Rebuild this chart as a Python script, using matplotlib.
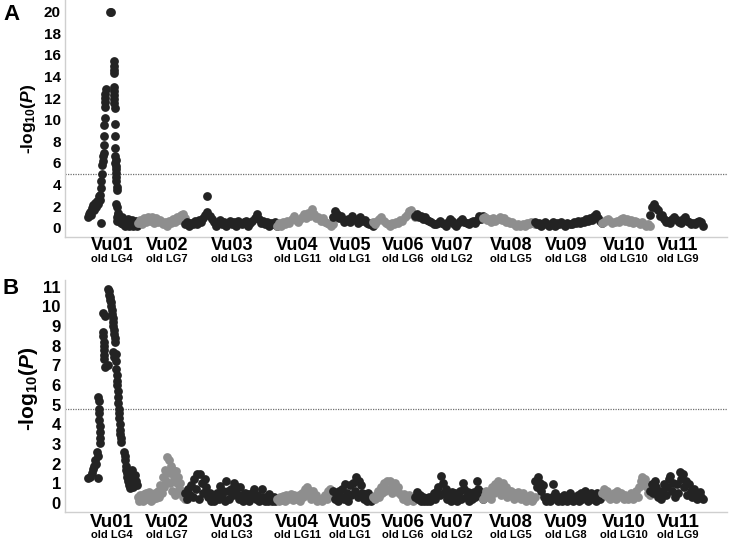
import numpy as np
import matplotlib
matplotlib.use('Agg')
import matplotlib.pyplot as plt

plt.rcParams['font.family'] = ['Liberation Sans', 'DejaVu Sans']
plt.rcParams['font.weight'] = 'bold'
plt.rcParams['mathtext.fontset'] = 'custom'
plt.rcParams['mathtext.rm'] = 'Liberation Sans:bold'
plt.rcParams['mathtext.it'] = 'Liberation Sans:italic:bold'
plt.rcParams['mathtext.bf'] = 'Liberation Sans:bold'

chromosomes = ['Vu01', 'Vu02', 'Vu03', 'Vu04', 'Vu05', 'Vu06', 'Vu07', 'Vu08', 'Vu09', 'Vu10', 'Vu11']
old_groups = ['old LG4', 'old LG7', 'old LG3', 'old LG11', 'old LG1', 'old LG6',
              'old LG2', 'old LG5', 'old LG8', 'old LG10', 'old LG9']
chrom_length = [51, 47, 92, 56, 40, 42, 68, 52, 67, 48, 53]

# ---- panel A ----
a_threshold = 5.0
a_vu01_pos = [1, 2, 3, 4, 5, 6, 7, 8, 9, 10, 11, 12, 12.5, 13.5,
              13, 13.5, 14, 14.5, 15, 15.5, 16, 16.5, 16.5, 17, 17, 17.5, 17.5, 18, 18, 18, 18.5,
              22.5, 23.5,
              26.5, 26.5, 26.5, 26.5, 27, 27, 27, 27, 27, 27.5, 27.5, 28, 28, 28, 28.5, 28, 29, 28.5,
              29, 28.5, 29, 29.5, 29.5, 29, 30, 30.5, 30, 29.5,
              31, 32, 33, 34, 35, 36, 37, 38, 39, 40, 41, 42, 43, 44, 45, 46, 47, 48, 49, 50, 51]
a_vu01_val = [1.0, 1.3, 1.5, 1.2, 1.8, 2.1, 1.6, 2.3, 1.9, 2.5, 2.2, 2.9, 2.6, 0.4,
              3.0, 3.7, 4.3, 5.0, 5.8, 6.2, 6.6, 6.9, 7.7, 8.5, 9.5, 10.2, 11.2, 11.6, 12.0, 12.4, 12.8,
              19.95, 19.95,
              15.4, 15.0, 14.6, 14.3, 13.0, 12.7, 12.3, 11.9, 11.5, 11.1, 9.6, 8.5, 7.4, 6.6, 6.3, 6.0, 5.7, 5.4,
              5.1, 4.7, 4.3, 3.8, 3.5, 2.2, 1.9, 1.4, 1.0, 0.6,
              1.2, 0.6, 0.9, 0.4, 1.0, 0.3, 0.7, 0.2, 0.6, 0.4, 0.8, 0.2, 0.5, 0.3, 0.7, 0.2, 0.5, 0.3, 0.6, 0.2, 0.4]
a_vu02 = [0.4, 0.7, 0.3, 0.9, 0.5, 1.0, 0.6, 1.0, 0.4, 0.9, 0.5, 0.7, 0.3, 0.5, 0.2, 0.6,
          0.4, 0.8, 0.5, 1.0, 0.7, 1.2, 1.3, 0.9]
a_vu03 = [0.3, 0.5, 0.2, 0.4, 0.3, 0.6, 0.3, 0.7, 0.5, 0.9, 1.2, 1.45, 1.1, 0.8, 0.5, 0.2,
          0.5, 0.7, 0.3, 0.5, 0.2, 0.4, 0.6, 0.3, 0.5, 0.2, 0.6, 0.4, 0.3, 0.5, 0.6, 0.2,
          0.4, 0.6, 0.9, 1.25, 0.8, 0.4, 0.6, 0.3, 0.5, 0.2, 0.4, 0.3, 0.5, 0.2]
a_vu03_extra_pos = [22]
a_vu03_extra_val = [2.93]
a_vu04 = [0.2, 0.4, 0.2, 0.5, 0.3, 0.6, 0.4, 0.8, 1.1, 0.7, 0.5, 0.8, 1.0, 1.27, 0.9, 1.4,
          1.1, 1.7, 1.3, 0.9, 1.0, 0.6, 0.9, 0.5, 0.4, 0.3, 0.2, 0.3]
a_vu05 = [1.0, 1.57, 1.3, 0.9, 1.1, 0.5, 0.7, 0.85, 0.5, 1.1, 0.8, 0.7, 0.4, 1.0, 0.6, 0.7,
          0.4, 0.3, 0.4, 0.2]
a_vu06 = [0.5, 0.3, 0.6, 0.8, 0.96, 0.6, 0.4, 0.3, 0.2, 0.45, 0.3, 0.5, 0.4, 0.7, 0.6, 0.96,
          1.2, 1.55, 1.6, 1.3, 1.0]
a_vu07 = [1.1, 1.27, 1.0, 1.1, 0.8, 1.0, 0.7, 0.65, 0.5, 0.35, 0.3, 0.4, 0.65, 0.4, 0.35, 0.2,
          0.5, 0.8, 0.6, 0.3, 0.2, 0.4, 0.6, 0.8, 0.5, 0.4, 0.3, 0.5, 0.65, 0.4, 0.7, 1.1, 0.8, 1.1]
a_vu08 = [0.9, 1.0, 0.7, 0.8, 0.5, 0.9, 0.6, 0.8, 1.0, 0.7, 0.9, 0.5, 0.6, 0.4, 0.5, 0.3,
          0.2, 0.3, 0.2, 0.35, 0.2, 0.4, 0.3, 0.5, 0.4, 0.3]
a_vu09 = [0.5, 0.3, 0.4, 0.2, 0.3, 0.5, 0.35, 0.2, 0.3, 0.5, 0.2, 0.4, 0.3, 0.5, 0.3, 0.2,
          0.4, 0.35, 0.3, 0.5, 0.4, 0.6, 0.4, 0.65, 0.5, 0.8, 0.6, 0.9, 0.7, 1.1, 1.27, 0.9, 0.65, 0.4]
a_vu10 = [0.4, 0.5, 0.7, 0.8, 0.6, 0.4, 0.5, 0.65, 0.5, 0.8, 0.9, 0.6, 0.8, 0.5, 0.7, 0.4,
          0.6, 0.5, 0.3, 0.5, 0.3, 0.2, 0.3, 0.2]
a_vu11 = [1.2, 1.9, 2.2, 1.8, 1.6, 1.1, 1.2, 0.8, 0.5, 0.65, 0.4, 0.8, 1.0, 0.7, 0.5, 0.4,
          0.8, 1.0, 0.6, 0.5, 0.3, 0.4, 0.3, 0.5, 0.65, 0.5, 0.2]

# ---- panel B ----
b_threshold = 4.8
b_vu01_pos = [1, 3, 4.5, 6, 7, 8, 9, 10, 11, 10.5,
              11, 11.5, 12, 12, 12, 12.5, 12.5, 13, 13,
              16, 18, 16, 16, 16.5, 16.5, 17, 17, 17, 18, 21,
              21, 21.5, 22, 22.5, 23, 23.5, 24, 24.5, 25, 25.5, 26, 26, 26.5, 27, 27.5, 28, 26, 27, 28.5,
              29, 29, 29.5, 30, 30, 30.5, 31, 31, 31.5, 32, 32, 32.5, 33, 33, 33.5, 34,
              37, 37.5, 38, 38.5, 39, 39.5, 40, 40.5, 41, 41.5, 42, 42.5, 43, 43.5, 44, 44.5,
              45, 45.5, 46, 46.5, 47, 48, 49, 50]
b_vu01_val = [1.25, 1.3, 1.5, 1.75, 1.9, 2.2, 2.0, 2.6, 1.25, 2.4,
              5.4, 5.2, 4.8, 4.6, 4.2, 3.9, 3.6, 3.3, 3.05,
              9.65, 9.5, 8.7, 8.5, 8.2, 8.0, 7.8, 7.5, 7.3, 6.9, 7.0,
              10.9, 10.8, 10.6, 10.5, 10.3, 10.2, 10.0, 9.8, 9.6, 9.4, 9.2, 9.0, 8.8, 8.6, 8.4, 8.2, 7.7, 7.4, 7.6,
              7.2, 6.8, 6.5, 6.2, 6.0, 5.7, 5.4, 5.1, 4.8, 4.6, 4.3, 4.0, 3.7, 3.5, 3.3, 3.1,
              2.6, 2.4, 2.2, 1.9, 1.7, 1.5, 1.3, 1.6, 1.1, 1.4, 0.9, 1.2, 0.75, 1.0, 1.5, 1.2,
              1.7, 1.1, 0.8, 1.3, 1.0, 1.4, 1.1, 0.9]
b_vu02 = [0.3, 0.1, 0.4, 0.2, 0.35, 0.1, 0.45, 0.25, 0.5, 0.2, 0.4, 0.55, 0.3, 0.1, 0.45, 0.2,
          0.35, 0.5, 0.25, 0.4, 0.6, 0.3, 0.9, 0.5, 1.3, 0.8, 1.7, 1.1, 2.35, 1.5, 2.2, 1.0,
          1.9, 0.6, 1.7, 1.3, 0.4, 1.6, 1.0, 1.3, 0.7, 1.0, 0.5, 0.6, 0.3, 0.4, 0.2]
b_vu03 = [0.5, 0.2, 0.7, 0.4, 0.9, 0.3, 1.2, 0.7, 1.47, 0.2, 1.45, 1.0, 0.5, 1.2, 0.8, 0.3,
          0.5, 0.1, 0.3, 0.1, 0.2, 0.5, 0.2, 0.88, 0.4, 0.6, 0.1, 1.13, 0.6, 0.2, 0.7, 0.4,
          1.0, 0.5, 0.8, 0.2, 0.8, 0.4, 0.1, 0.5, 0.2, 0.46, 0.1, 0.3, 0.5, 0.7, 0.2, 0.4,
          0.1, 0.3, 0.7, 0.3, 0.1, 0.3, 0.1, 0.46, 0.2, 0.1, 0.3, 0.1, 0.2]
b_vu04 = [0.2, 0.1, 0.3, 0.15, 0.37, 0.1, 0.4, 0.2, 0.3, 0.46, 0.15, 0.4, 0.2, 0.35, 0.4, 0.1,
          0.5, 0.3, 0.7, 0.8, 0.4, 0.6, 0.2, 0.6, 0.3, 0.4, 0.1, 0.2, 0.15, 0.1, 0.3, 0.4,
          0.2, 0.6, 0.7, 0.4, 0.5]
b_vu05 = [0.62, 0.2, 0.5, 0.1, 0.6, 0.3, 0.7, 0.2, 0.97, 0.5, 0.1, 0.9, 0.4, 1.0, 0.6, 1.34,
          0.3, 1.1, 0.9, 0.5, 0.2, 0.46, 0.1, 0.5, 0.3, 0.1, 0.2]
b_vu06 = [0.3, 0.2, 0.4, 0.6, 0.3, 0.8, 0.5, 1.0, 0.6, 1.13, 0.7, 1.1, 0.5, 0.9, 1.0, 0.6,
          0.8, 0.5, 0.4, 0.2, 0.46, 0.3, 0.1, 0.4, 0.2, 0.3, 0.1, 0.2]
b_vu07 = [0.3, 0.56, 0.2, 0.4, 0.1, 0.3, 0.1, 0.25, 0.1, 0.3, 0.1, 0.3, 0.5, 0.2, 0.62, 0.8,
          0.4, 1.39, 1.0, 0.5, 0.7, 0.2, 0.5, 0.1, 0.56, 0.3, 0.5, 0.1, 0.4, 0.6, 0.2, 1.0,
          0.7, 0.3, 0.56, 0.1, 0.5, 0.2, 0.56, 0.3, 1.1, 0.7, 0.4, 0.56, 0.2]
b_vu08 = [0.2, 0.4, 0.62, 0.3, 0.5, 0.2, 0.8, 0.5, 0.97, 0.6, 1.13, 0.8, 0.4, 1.0, 0.6, 0.8,
          0.3, 0.6, 0.62, 0.4, 0.2, 0.5, 0.3, 0.56, 0.4, 0.2, 0.5, 0.3, 0.1, 0.3, 0.2, 0.4,
          0.1, 0.2, 0.3]
b_vu09 = [1.1, 0.8, 1.3, 1.0, 0.6, 0.9, 0.3, 0.1, 0.3, 0.2, 0.1, 0.3, 0.97, 0.5, 0.2, 0.1,
          0.3, 0.2, 0.1, 0.4, 0.2, 0.1, 0.3, 0.5, 0.2, 0.1, 0.3, 0.2, 0.4, 0.1, 0.5, 0.2,
          0.3, 0.62, 0.4, 0.1, 0.3, 0.5, 0.2, 0.4, 0.1, 0.5, 0.3, 0.2, 0.4]
b_vu10 = [0.5, 0.7, 0.4, 0.6, 0.3, 0.2, 0.4, 0.3, 0.5, 0.2, 0.62, 0.4, 0.5, 0.3, 0.2, 0.4,
          0.3, 0.2, 0.3, 0.5, 0.2, 0.4, 0.6, 0.3, 0.8, 1.1, 1.3, 0.9, 1.2, 0.8, 0.5, 0.4]
b_vu11 = [0.6, 0.97, 0.5, 1.13, 0.8, 0.3, 0.46, 0.2, 0.6, 0.97, 0.4, 0.8, 1.2, 1.39, 0.6, 1.0,
          0.3, 0.97, 0.5, 1.58, 1.2, 1.45, 0.8, 1.1, 0.4, 0.97, 0.6, 0.3, 0.7, 0.4, 0.2, 0.5,
          0.56, 0.3, 0.2]

a_rest = [a_vu02, a_vu03, a_vu04, a_vu05, a_vu06, a_vu07, a_vu08, a_vu09, a_vu10, a_vu11]
b_rest = [b_vu02, b_vu03, b_vu04, b_vu05, b_vu06, b_vu07, b_vu08, b_vu09, b_vu10, b_vu11]

starts = np.concatenate([[0], np.cumsum(chrom_length)[:-1]])
# label centres, as placed in the figure (not exactly the chromosome middles)
label_x = [25, 80, 145, 210, 263, 316, 365, 424, 479, 537, 591]
colors = ['#232323', '#8e8e8e']
dot = 40


def draw_panel(ax, vu01_pos, vu01_val, rest, threshold, yticks, ylim,
               tick_size, vu_size, lg_size, vu_off, lg_off):
    ax.scatter(starts[0] + np.array(vu01_pos), vu01_val, s=dot, color=colors[0], lw=0, zorder=3)
    for i, vals in enumerate(rest, start=1):
        pos = starts[i] + np.linspace(0, chrom_length[i], len(vals))
        ax.scatter(pos, vals, s=dot, color=colors[i % 2], lw=0, zorder=3)
    ax.axhline(threshold, color='#707070', lw=0.9, ls=(0, (1, 1)), zorder=2)
    ax.set_xlim(-22, sum(chrom_length) + 24)
    ax.set_ylim(*ylim)
    ax.set_yticks(yticks)
    ax.set_yticklabels([str(t) for t in yticks], fontsize=tick_size, fontweight='bold')
    ax.set_xticks([])
    ax.tick_params(axis='y', length=0, pad=3)
    for side in ['top', 'right']:
        ax.spines[side].set_visible(False)
    for side in ['left', 'bottom']:
        ax.spines[side].set_color('#cfcfcf')
        ax.spines[side].set_linewidth(1.0)
    trans = ax.get_xaxis_transform()
    for c, name, lg in zip(label_x, chromosomes, old_groups):
        ax.annotate(name, xy=(c, 0), xycoords=trans, xytext=(0, -vu_off),
                    textcoords='offset pixels', ha='center', va='center',
                    fontsize=vu_size, fontweight='bold', annotation_clip=False)
        ax.annotate(lg, xy=(c, 0), xycoords=trans, xytext=(0, -lg_off),
                    textcoords='offset pixels', ha='center', va='center',
                    fontsize=lg_size, fontweight='bold', annotation_clip=False)


fig = plt.figure(figsize=(7.3, 5.42), dpi=100)
ax_a = fig.add_axes([65 / 730, 1 - 237 / 542, 662 / 730, 237 / 542])
ax_b = fig.add_axes([65 / 730, 1 - 512 / 542, 662 / 730, 232 / 542])

draw_panel(ax_a, a_vu01_pos, a_vu01_val, a_rest, a_threshold, list(range(0, 21, 2)),
           (-0.86, 21.08), 11, 13, 8, 9, 22)
ax_a.scatter(starts[2] + np.array(a_vu03_extra_pos), a_vu03_extra_val, s=dot,
             color=colors[0], lw=0, zorder=3)
draw_panel(ax_b, b_vu01_pos, b_vu01_val, b_rest, b_threshold, list(range(0, 12)),
           (-0.46, 11.34), 12, 13.5, 8, 10.5, 23.5)

ylab = r'-log$_{10}$($\mathit{P}$)'
fig.text(28 / 730, 1 - 119 / 542, ylab, rotation=90, ha='center', va='center',
         fontsize=12.5, fontweight='bold')
fig.text(28 / 730, 1 - 389 / 542, ylab, rotation=90, ha='center', va='center',
         fontsize=15, fontweight='bold')
fig.text(3 / 730, 1 - 14 / 542, 'A', ha='left', va='center', fontsize=16, fontweight='bold')
fig.text(3 / 730, 1 - 289 / 542, 'B', ha='left', va='center', fontsize=16, fontweight='bold')

plt.savefig('out.png', dpi=100)
